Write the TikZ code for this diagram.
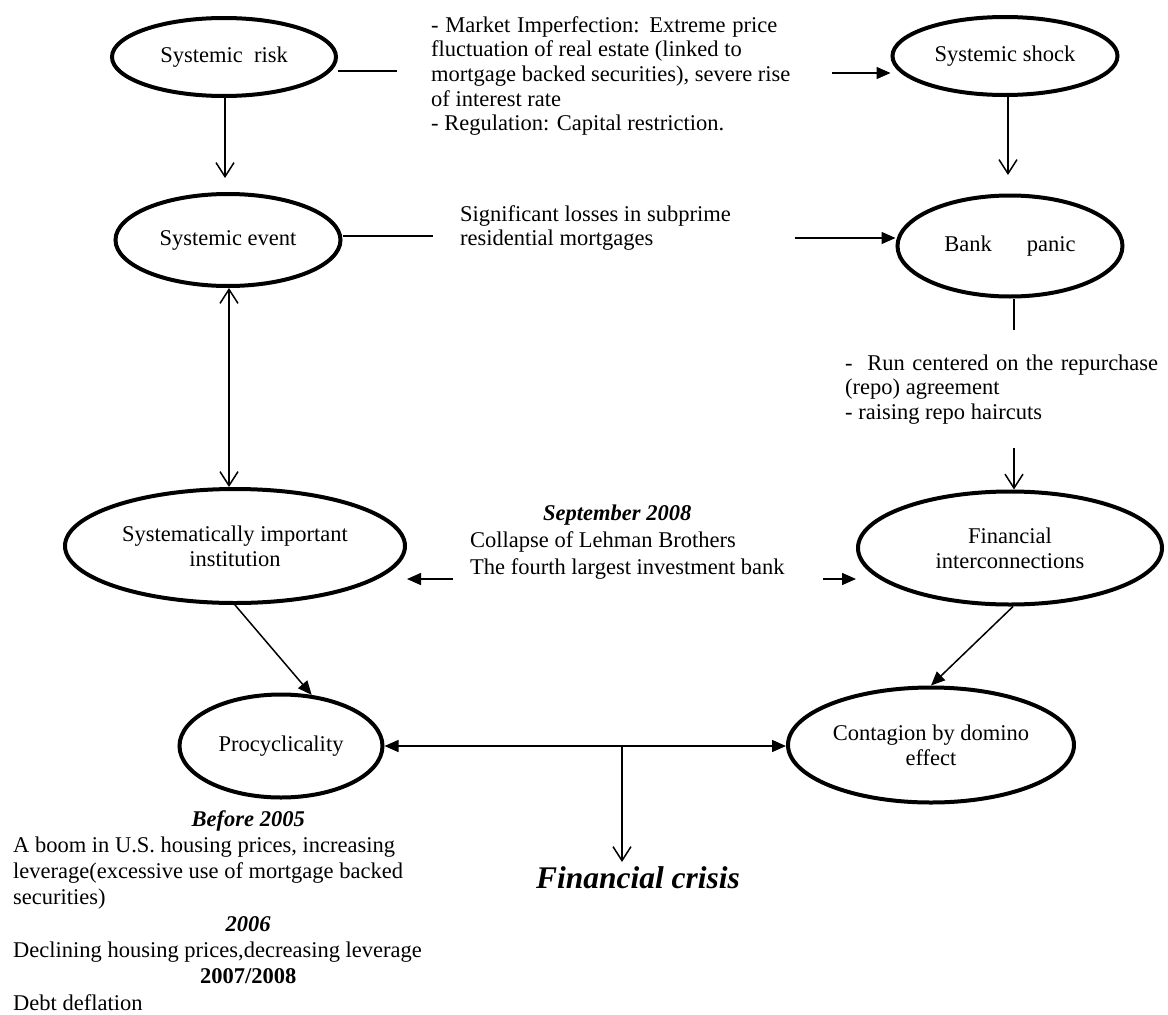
\documentclass[tikz,border=0pt]{standalone}
\usepackage{fontspec}
\setmainfont{Liberation Serif}
\usetikzlibrary{shapes.geometric,arrows.meta}
\newcommand\txtlines[1]{\begin{tabular}[t]{@{}l@{}}#1\end{tabular}}
\begin{document}
\begin{tikzpicture}[x=1pt,y=-1pt,
  every node/.style={font=\fontsize{22.5}{24.7}\selectfont},
  oval/.style={ellipse, draw, line width=4pt, inner sep=0pt, align=center},
  conn/.style={line width=1.5pt},
  fa/.style={conn,-{Triangle[length=14pt,width=12pt]}},
  fab/.style={conn,{Triangle[length=14pt,width=12pt]}-{Triangle[length=14pt,width=12pt]}},
  oa/.style={conn,-{Straight Barb[length=14pt,width=18pt]}},
  oab/.style={conn,{Straight Barb[length=14pt,width=18pt]}-{Straight Barb[length=14pt,width=18pt]}},
  txt/.style={inner sep=0pt, anchor=base west}]
\useasboundingbox (0,0) rectangle (1168,1015);

% ellipses
\node[oval, minimum width=224pt, minimum height=78pt]  (risk)  at (224,57)  {Systemic\ \ risk};
\node[oval, minimum width=225pt, minimum height=78pt]  (shock) at (1005,56) {Systemic shock};
\node[oval, minimum width=225pt, minimum height=92pt]  (event) at (228,240) {Systemic event};
\node[oval, minimum width=225pt, minimum height=101pt] (panic) at (1010,246) {Bank\hspace{35pt}panic};
\node[oval, minimum width=340pt, minimum height=114pt] (sii)   at (235,546) {Systematically important\\institution};
\node[oval, minimum width=304pt, minimum height=113pt] (fin)   at (1010,548) {Financial\\interconnections};
\node[oval, minimum width=203pt, minimum height=103pt] (proc)  at (281,746) {Procyclicality};
\node[oval, minimum width=286pt, minimum height=115pt] (cont)  at (931,745) {Contagion by domino\\effect};

% texts
\node[txt] (imperf) at (431,32) {\txtlines{\makebox[346pt][s]{- Market Imperfection: Extreme price}\\
fluctuation of real estate (linked to\\
mortgage backed securities), severe rise\\
of interest rate\\
- Regulation: Capital restriction.}};
\node[txt] (losses) at (460,221) {\txtlines{Significant losses in subprime\\ residential mortgages}};
\node[txt] (repo) at (845,370) {\txtlines{\makebox[313pt][s]{- \ Run centered on the repurchase}\\
(repo) agreement\\
- raising repo haircuts}};
\node[txt, font=\fontsize{22.5}{27}\selectfont] (lehman) at (470,520) {\txtlines{%
\hspace{147pt}\makebox[0pt]{\bfseries\itshape September 2008}\\
Collapse of Lehman Brothers\\
The fourth largest investment bank}};
\node[txt, font=\fontsize{22.5}{26.3}\selectfont] (before) at (13,826) {\txtlines{%
\hspace{235pt}\makebox[0pt]{\bfseries\itshape Before 2005}\\
A boom in U.S. housing prices, increasing\\
leverage(excessive use of mortgage backed\\
securities)\\
\hspace{235pt}\makebox[0pt]{\bfseries\itshape 2006}\\
Declining housing prices,decreasing leverage\\
\hspace{235pt}\makebox[0pt]{\bfseries 2007/2008}\\
Debt deflation}};
\node[inner sep=0pt, anchor=base, font=\fontsize{31.5}{36}\selectfont\bfseries\itshape] (crisis) at (638,888) {Financial crisis};

% free ends
\coordinate (l1e) at (397,71);
\coordinate (a1s) at (832,73);
\coordinate (a2e) at (225,178);
\coordinate (a3e) at (1008,175);
\coordinate (l2e) at (433,236);
\coordinate (a4s) at (795,238);
\coordinate (l3e) at (1014,330);
\coordinate (a5s) at (1014,448);
\coordinate (a6x) at (229,0);
\coordinate (a7s) at (453,579);
\coordinate (a8s) at (823,579);
\coordinate (cr)  at (622,747);
\coordinate (a12e) at (622,862);

% connectors
\draw[conn] (risk.east |- l1e) -- (l1e);
\draw[fa] (a1s) -- (a1s -| shock.west);
\draw[oa] (a2e |- risk.south) -- (a2e);
\draw[oa] (a3e |- shock.south) -- (a3e);
\draw[conn] (event.east |- l2e) -- (l2e);
\draw[fa] (a4s) -- (a4s -| panic.west);
\draw[conn] (l3e |- panic.south) -- (l3e);
\draw[oa] (a5s) -- (a5s |- fin.north);
\draw[oab] (event.south -| a6x) -- (sii.north -| a6x);
\draw[fa] (a7s) -- (a7s -| sii.east);
\draw[fa] (a8s) -- (a8s -| fin.west);
\draw[fa] (sii.south) -- (proc.59);
\draw[fa] (fin.-87) -- (cont.north);
\draw[fab] (proc.east) -- (proc.east -| cont.west);
\draw[oa] (cr) -- (a12e);
\end{tikzpicture}
\end{document}
